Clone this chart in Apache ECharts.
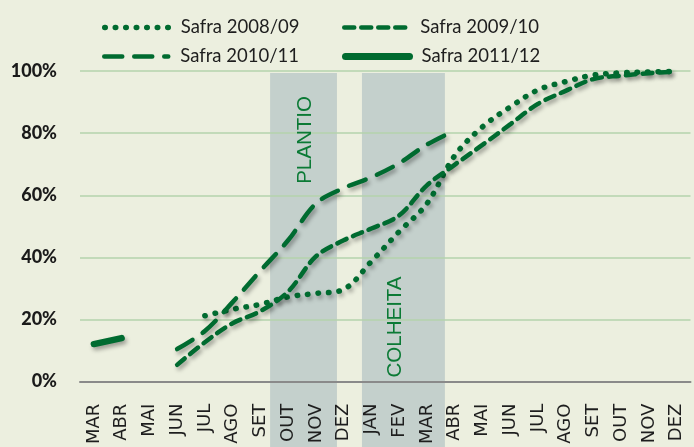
<!DOCTYPE html>
<html>
<head>
<meta charset="utf-8">
<script src="https://cdn.jsdelivr.net/npm/echarts@6/dist/echarts.min.js"></script>
<style>
  html, body { margin: 0; padding: 0; background: #ecefdf; }
  #chart { width: 694px; height: 447px; }
</style>
</head>
<body>
<div id="chart"></div>
<script>
// meses (eixo X)
const months = ['MAR', 'ABR', 'MAI', 'JUN', 'JUL', 'AGO', 'SET', 'OUT', 'NOV', 'DEZ', 'JAN',
  'FEV', 'MAR', 'ABR', 'MAI', 'JUN', 'JUL', 'AGO', 'SET', 'OUT', 'NOV', 'DEZ'];

// % acumulado por safra
const safra0809 = [null, null, null, null, 21.2, 23.3, 24.9, 27.3, 28.4, 29.7, 38.7, 48.3,
  57.3, 72.7, 82.0, 88.4, 93.9, 96.6, 98.7, 99.4, 99.7, 99.9];
const safra0910 = [null, null, null, 5.4, 12.7, 18.8, 22.7, 29.0, 40.3, 45.5, 49.3, 53.5,
  63.2, 69.8, 76.2, 82.8, 89.4, 93.6, 97.4, 98.5, 99.3, 99.8];
const safra1011 = [null, null, null, 10.5, 16.3, 25.6, 35.7, 45.5, 57.3, 62.3, 65.8, 70.3,
  76.3, 80.8, null, null, null, null, null, null, null, null];
const safra1112 = [12.1, 14.0, null, null, null, null, null, null, null, null, null, null,
  null, null, null, null, null, null, null, null, null, null];

const seriesNames = ['Safra 2008/09', 'Safra 2009/10', 'Safra 2010/11', 'Safra 2011/12'];
const yTicks = [0, 20, 40, 60, 80, 100];

// faixas de plantio / colheita (em unidades de mes, 0 = borda esquerda de MAR)
const plantio = [6.85, 9.26];
const colheita = [10.16, 13.15];

const green = '#006b30';
const shadow = {
  shadowColor: 'rgba(0,0,0,0.35)',
  shadowBlur: 4,
  shadowOffsetX: 2,
  shadowOffsetY: 3
};

// estilo de cada safra: tipo de traço e espessura
const dashes = [[0.5, 10], [10, 7], [18, 12], 'solid'];
const widths = [5.5, 4.5, 4.5, 6.5];

function lineSeries(i, data) {
  return {
    name: seriesNames[i],
    type: 'line',
    data: data,
    smooth: 0.35,
    symbol: 'none',
    z: 5,
    lineStyle: Object.assign({ color: green, width: widths[i], type: dashes[i], cap: 'round' }, shadow),
    itemStyle: { color: green }
  };
}

const chart = echarts.init(document.getElementById('chart'));

const legendPos = [[97, 13], [337, 13], [97, 42], [337, 42]];

chart.setOption({
  backgroundColor: '#ecefdf',
  animation: false,
  legend: seriesNames.map((n, i) => ({
    data: [n],
    left: legendPos[i][0],
    top: legendPos[i][1],
    itemWidth: 64,
    itemHeight: 16,
    itemStyle: { opacity: 0 },
    lineStyle: {
      color: green,
      width: i === 3 ? 7 : widths[i],
      type: dashes[i],
      cap: 'round'
    },
    textStyle: {
      fontFamily: 'Lato',
      fontSize: 18.5,
      color: '#1e1e1e',
      padding: [0, 0, 0, 7]
    }
  })),
  grid: [
    { left: 80, right: 3.5, top: 71, bottom: 64.3 },
    { left: 80, right: 3.5, top: 73, bottom: 0 }
  ],
  xAxis: [
    {
      type: 'category',
      data: months,
      gridIndex: 0,
      z: 6,
      boundaryGap: true,
      axisLine: { lineStyle: { color: '#8a8a8a', width: 2 } },
      axisTick: { show: false },
      axisLabel: {
        rotate: 90,
        margin: 22,
        interval: 0,
        fontFamily: 'DejaVu Sans',
        fontSize: 18,
        color: '#1e1e1e'
      }
    },
    { type: 'value', gridIndex: 1, min: 0, max: 22, show: false }
  ],
  yAxis: [
    {
      type: 'value',
      gridIndex: 0,
      min: yTicks[0],
      max: yTicks[yTicks.length - 1],
      interval: 20,
      z: 3,
      axisLine: { show: false },
      axisTick: { show: false },
      splitLine: { lineStyle: { color: '#b4d3ad', width: 1.5 } },
      axisLabel: {
        formatter: '{value}%',
        margin: 23,
        fontFamily: 'Lato',
        fontWeight: 900,
        fontSize: 18,
        color: '#1a1a1a'
      }
    },
    { type: 'value', gridIndex: 1, min: 0, max: 1, show: false }
  ],
  series: [
    {
      type: 'line',
      xAxisIndex: 1,
      yAxisIndex: 1,
      data: [[0, 0]],
      symbol: 'none',
      lineStyle: { opacity: 0 },
      z: 1,
      silent: true,
      markArea: {
        silent: true,
        itemStyle: { color: '#c4d0cc' },
        data: [
          [{ xAxis: plantio[0] }, { xAxis: plantio[1] }],
          [{ xAxis: colheita[0] }, { xAxis: colheita[1] }]
        ]
      }
    },
    lineSeries(0, safra0809),
    lineSeries(1, safra0910),
    lineSeries(2, safra1011),
    lineSeries(3, safra1112)
  ],
  graphic: [
    {
      type: 'text',
      x: 305, y: 140,
      rotation: Math.PI / 2,
      z: 10,
      style: { text: 'PLANTIO', fill: '#0b7a35', font: '20.5px "Liberation Sans"', align: 'center', verticalAlign: 'middle' }
    },
    {
      type: 'text',
      x: 395, y: 327,
      rotation: Math.PI / 2,
      z: 10,
      style: { text: 'COLHEITA', fill: '#0b7a35', font: '20.5px "Liberation Sans"', align: 'center', verticalAlign: 'middle' }
    }
  ]
});
</script>
</body>
</html>
